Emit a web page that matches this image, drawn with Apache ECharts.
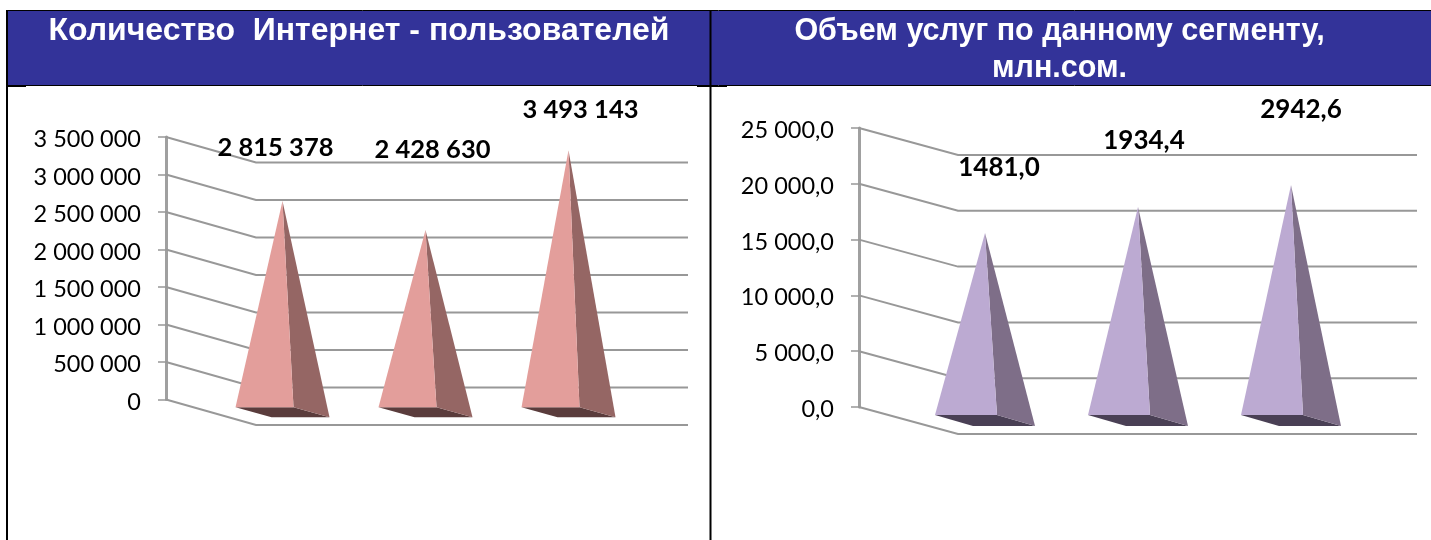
<!DOCTYPE html>
<html>
<head>
<meta charset="utf-8">
<title>chart</title>
<style>
  html, body { margin: 0; padding: 0; background: #fff; }
  #main { width: 1431px; height: 540px; }
</style>
<script src="https://cdn.jsdelivr.net/npm/echarts@6/dist/echarts.min.js"></script>
</head>
<body>
<div id="main"></div>
<script>
var titleLeft = 'Количество  Интернет - пользователей';
var titleRight = 'Объем услуг по данному сегменту,\nмлн.сом.';

var categories = ['1', '2', '3'];

// left panel, labels agree with the heights
var usersValues = [2815378, 2428630, 3493143];
var usersLabels = ['2 815 378', '2 428 630', '3 493 143'];
var usersTicks = ['0', '500 000', '1 000 000', '1 500 000', '2 000 000', '2 500 000', '3 000 000', '3 500 000'];

// right panel, the printed labels do not follow the drawn heights in the source
var volumeValues = [16800, 19130, 21100];
var volumeLabels = ['1481,0', '1934,4', '2942,6'];
var volumeTicks = ['0,0', '5 000,0', '10 000,0', '15 000,0', '20 000,0', '25 000,0'];

var gridColor = '#989898';
var labelFont = 'Lato, "Open Sans", sans-serif';

function gridSeries(xIndex, yIndex, tickStep, tickCount, depth, extra) {
  var ticks = [];
  for (var i = 0; i < tickCount; i++) ticks.push(i * tickStep);
  return {
    type: 'custom',
    xAxisIndex: xIndex,
    yAxisIndex: yIndex,
    silent: true,
    clip: false,
    z: 2,
    data: ticks,
    encode: { y: 0 },
    renderItem: function (params, api) {
      var y = api.coord([0, api.value(0)])[1];
      var x0 = params.coordSys.x;
      var x1 = x0 + params.coordSys.width;
      return {
        type: 'polyline',
        shape: { points: [[x0, y], [x0 + depth[0], y + depth[1]], [x1 + depth[0] + extra, y + depth[1]]] },
        style: { stroke: gridColor, lineWidth: 2, fill: null }
      };
    }
  };
}

function pyramidSeries(xIndex, yIndex, values, labels, offsets, depth, base, colors, labelSize) {
  return {
    type: 'custom',
    xAxisIndex: xIndex,
    yAxisIndex: yIndex,
    silent: true,
    clip: false,
    z: 3,
    data: values.map(function (v, i) { return [i, v]; }),
    encode: { x: 0, y: 1 },
    renderItem: function (params, api) {
      var i = api.value(0);
      var top = api.coord([i, api.value(1)]);
      var zero = api.coord([i, 0]);
      // the bars stand in the middle of the floor, half way back
      var apex = [top[0] + depth[0] / 2, top[1] + depth[1] / 2];
      var cx = zero[0] + depth[0] / 2;
      var cy = zero[1] + depth[1] / 2;
      var a = [cx - base[0], cy - base[2]];
      var b = [cx + base[1], cy - base[2]];
      var c = [cx + base[0], cy + base[2]];
      var d = [cx - base[1], cy + base[2]];
      function face(points, color) {
        return { type: 'polygon', shape: { points: points }, style: { fill: color } };
      }
      return {
        type: 'group',
        children: [
          face([a, b, c, d], colors[2]),
          face([b, c, apex], colors[1]),
          face([a, b, apex], colors[0]),
          {
            type: 'text',
            z2: 10,
            style: {
              text: labels[i],
              x: apex[0] + offsets[i][0],
              y: apex[1] + offsets[i][1],
              align: 'center',
              verticalAlign: 'middle',
              fill: '#000',
              font: 'bold ' + labelSize + 'px ' + labelFont
            }
          }
        ]
      };
    }
  };
}

function yAxis(index, max, step, ticks) {
  return {
    type: 'value',
    gridIndex: index,
    min: 0,
    max: max,
    interval: step,
    splitLine: { show: false },
    axisLine: { show: true, lineStyle: { color: '#a0a0a0', width: 3 } },
    axisTick: { show: true, length: 8, lineStyle: { color: gridColor, width: 1.5 } },
    axisLabel: {
      margin: 25,
      color: '#000',
      formatter: function (v) { return '{t|' + ticks[Math.round(v / step)] + '}'; },
      rich: {
        t: { fontSize: 23.5, fontFamily: labelFont, color: '#000', padding: [5, 0, 0, 0] }
      }
    }
  };
}

function xAxis(index) {
  return {
    type: 'category',
    gridIndex: index,
    data: categories,
    axisLine: { show: false },
    axisTick: { show: false },
    axisLabel: { show: false }
  };
}

function headerBlock(x, width) {
  return { type: 'rect', z: 0, shape: { x: x, y: 11, width: width, height: 74 }, style: { fill: '#333399' } };
}

function blackLine(x1, y1, x2, y2, w) {
  return { type: 'line', z: 1, shape: { x1: x1, y1: y1, x2: x2, y2: y2 }, style: { stroke: '#000', lineWidth: w } };
}

var chart = echarts.init(document.getElementById('main'));
chart.setOption({
  animation: false,
  backgroundColor: '#fff',
  title: [
    {
      text: titleLeft,
      left: 354,
      top: 8,
      textAlign: 'center',
      textStyle: { color: '#fff', fontFamily: '"Liberation Sans", Arial, sans-serif', fontWeight: 'bold', fontSize: 32, lineHeight: 37 }
    },
    {
      text: titleRight,
      left: 1054.5,
      top: 8,
      textAlign: 'center',
      textStyle: { color: '#fff', fontFamily: '"Liberation Sans", Arial, sans-serif', fontWeight: 'bold', fontSize: 30.5, lineHeight: 37 }
    }
  ],
  graphic: [
    headerBlock(7, 1424),
    blackLine(6, 10.5, 1431, 10.5, 1),
    blackLine(6, 85.5, 1431, 85.5, 1),
    blackLine(7, 86.5, 26, 86.5, 1),
    blackLine(697, 86.5, 727, 86.5, 1),
    blackLine(7, 10, 7, 540, 2),
    blackLine(710.5, 10, 710.5, 540, 2)
  ],
  grid: [
    { left: 166, top: 137, width: 429, height: 262.5 },
    { left: 859, top: 128, width: 459, height: 279 }
  ],
  xAxis: [xAxis(0), xAxis(1)],
  yAxis: [
    yAxis(0, 3500000, 500000, usersTicks),
    yAxis(1, 25000, 5000, volumeTicks)
  ],
  series: [
    gridSeries(0, 0, 500000, usersTicks.length, [90, 25.5], 3),
    gridSeries(1, 1, 5000, volumeTicks.length, [99, 27], 0),
    pyramidSeries(0, 0, usersValues, usersLabels, [[-7, -53], [7, -80], [12, -40]],
      [90, 25.5], [47, 11, 5], ['#e39e9b', '#956664', '#5a3c3c'], 25.5),
    pyramidSeries(1, 1, volumeValues, volumeLabels, [[14, -65], [6, -66], [10, -75]],
      [99, 27], [50, 12, 5.5], ['#bcaad2', '#7e6e88', '#4a4055'], 26)
  ]
});
</script>
</body>
</html>
